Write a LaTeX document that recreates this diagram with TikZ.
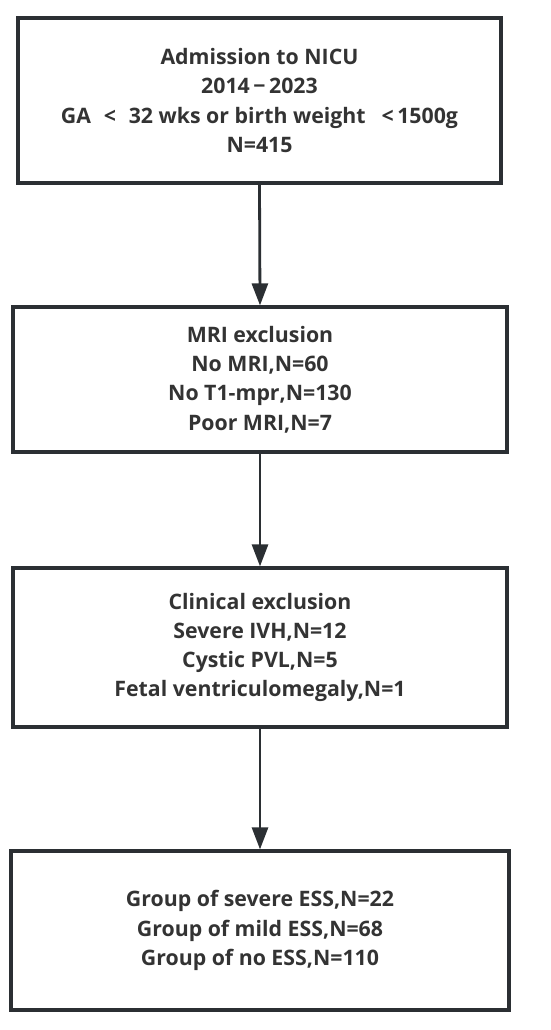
\documentclass[tikz,border=0pt]{standalone}
\usepackage{fontspec}
\setmainfont{Open Sans}
\usetikzlibrary{arrows.meta}
\definecolor{ink}{HTML}{2B2F33}
\definecolor{txt}{HTML}{333333}
\begin{document}
\begin{tikzpicture}[x=1pt,y=-1pt,
  box/.style={draw=ink,line width=3.2pt,minimum width=#1,align=center,inner sep=0pt,
    font=\fontsize{21.3}{29.2}\selectfont\bfseries,text=txt},
  arr/.style={draw=ink,line width=2.8pt,-{Triangle[length=22pt,width=16pt]}}]
\useasboundingbox (0,0) rectangle (550,1030);
\node[box=483pt,minimum height=165pt] (a) at (259.5,100.5) {Admission to NICU\\2014\,−\,2023\\GA\hspace{0.6em}<\hspace{0.6em}32 wks or birth weight\hspace{0.75em}<\,1500g\\N=415};
\node[box=494pt,minimum height=145pt] (b) at (260,379.5) {MRI exclusion\\No MRI,N=60\\No T1-mpr,N=130\\Poor MRI,N=7};
\node[box=494pt,minimum height=159pt] (c) at (260,647.5) {Clinical exclusion\\Severe IVH,N=12\\Cystic PVL,N=5\\Fetal ventriculomegaly,N=1};
\node[box=498pt,minimum height=159pt] (d) at (260,930.5) {Group of severe ESS,N=22\\Group of mild ESS,N=68\\Group of no ESS,N=110};
\draw[arr] (a.south) -- (b.north);
\draw[arr] (b.south) -- (c.north);
\draw[arr] (c.south) -- (d.north);
\end{tikzpicture}
\end{document}
